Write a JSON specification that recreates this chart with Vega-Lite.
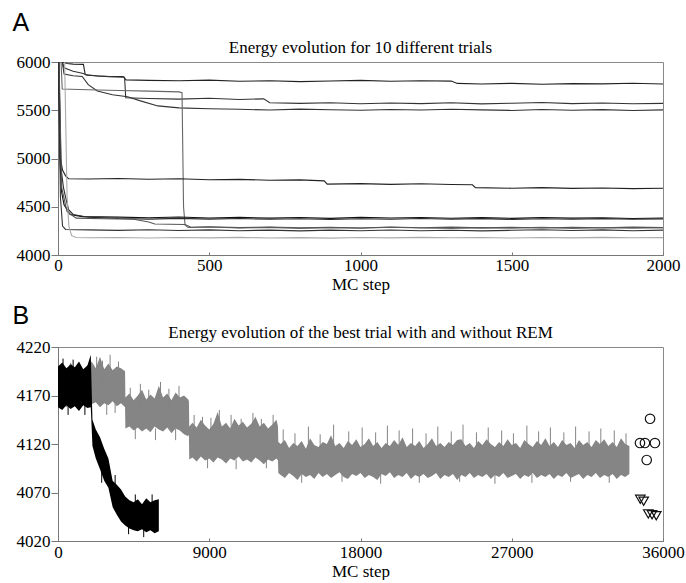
{
"$schema": "https://vega.github.io/schema/vega-lite/v6.json",
"padding": {"left": 12, "top": 10, "right": 3, "bottom": 0},
"spacing": 10,
"config": {
 "view": {"stroke": "#888", "strokeWidth": 1},
 "axis": {"domainColor": "#777", "tickColor": "#777", "labelColor": "#000", "titleColor": "#000", "grid": false, "labelFlush": false, "labelOverlap": false},
 "title": {"font": "serif", "fontSize": 17, "fontWeight": "normal", "color": "#000"}
},
"vconcat": [
 {
  "title": {"text": "A", "anchor": "start", "font": "sans-serif", "fontSize": 25, "fontWeight": "normal", "offset": 3, "dx": -3},
  "vconcat": [
   {
    "title": {"text": "Energy evolution for 10 different trials", "offset": -4},
    "width": 605, "height": 193,
    "data": {"values": [
{"t":"L1","x":0,"y":6500},{"t":"L1","x":18,"y":6000},{"t":"L1","x":30,"y":5985},{"t":"L1","x":50,"y":5978},{"t":"L1","x":84,"y":5975},{"t":"L1","x":90,"y":5870},{"t":"L1","x":130,"y":5855},{"t":"L1","x":170,"y":5848},{"t":"L1","x":215,"y":5850},{"t":"L1","x":225,"y":5815},{"t":"L1","x":300,"y":5810},{"t":"L1","x":400,"y":5806},{"t":"L1","x":500,"y":5812},{"t":"L1","x":600,"y":5800},{"t":"L1","x":700,"y":5805},{"t":"L1","x":800,"y":5797},{"t":"L1","x":900,"y":5803},{"t":"L1","x":1000,"y":5810},{"t":"L1","x":1100,"y":5800},{"t":"L1","x":1200,"y":5806},{"t":"L1","x":1300,"y":5802},{"t":"L1","x":1320,"y":5778},{"t":"L1","x":1400,"y":5772},{"t":"L1","x":1500,"y":5779},{"t":"L1","x":1600,"y":5770},{"t":"L1","x":1700,"y":5776},{"t":"L1","x":1800,"y":5773},{"t":"L1","x":1900,"y":5780},{"t":"L1","x":2000,"y":5772},
{"t":"L2","x":0,"y":6500},{"t":"L2","x":15,"y":6000},{"t":"L2","x":20,"y":5940},{"t":"L2","x":50,"y":5905},{"t":"L2","x":84,"y":5880},{"t":"L2","x":95,"y":5862},{"t":"L2","x":150,"y":5852},{"t":"L2","x":220,"y":5842},{"t":"L2","x":224,"y":5630},{"t":"L2","x":300,"y":5622},{"t":"L2","x":400,"y":5615},{"t":"L2","x":500,"y":5625},{"t":"L2","x":600,"y":5612},{"t":"L2","x":680,"y":5618},{"t":"L2","x":700,"y":5578},{"t":"L2","x":800,"y":5571},{"t":"L2","x":900,"y":5577},{"t":"L2","x":1000,"y":5568},{"t":"L2","x":1100,"y":5575},{"t":"L2","x":1200,"y":5569},{"t":"L2","x":1300,"y":5578},{"t":"L2","x":1400,"y":5566},{"t":"L2","x":1500,"y":5573},{"t":"L2","x":1600,"y":5581},{"t":"L2","x":1700,"y":5569},{"t":"L2","x":1800,"y":5575},{"t":"L2","x":1900,"y":5567},{"t":"L2","x":2000,"y":5571},
{"t":"L3","x":0,"y":6500},{"t":"L3","x":14,"y":6000},{"t":"L3","x":20,"y":5875},{"t":"L3","x":50,"y":5858},{"t":"L3","x":80,"y":5850},{"t":"L3","x":100,"y":5765},{"t":"L3","x":130,"y":5700},{"t":"L3","x":180,"y":5660},{"t":"L3","x":230,"y":5640},{"t":"L3","x":270,"y":5600},{"t":"L3","x":330,"y":5545},{"t":"L3","x":400,"y":5525},{"t":"L3","x":500,"y":5515},{"t":"L3","x":600,"y":5510},{"t":"L3","x":700,"y":5502},{"t":"L3","x":800,"y":5512},{"t":"L3","x":900,"y":5505},{"t":"L3","x":1000,"y":5500},{"t":"L3","x":1100,"y":5508},{"t":"L3","x":1200,"y":5502},{"t":"L3","x":1300,"y":5510},{"t":"L3","x":1400,"y":5504},{"t":"L3","x":1500,"y":5498},{"t":"L3","x":1600,"y":5508},{"t":"L3","x":1700,"y":5500},{"t":"L3","x":1800,"y":5506},{"t":"L3","x":1900,"y":5498},{"t":"L3","x":2000,"y":5504},
{"t":"L4","x":0,"y":6500},{"t":"L4","x":10,"y":6000},{"t":"L4","x":14,"y":5720},{"t":"L4","x":100,"y":5712},{"t":"L4","x":200,"y":5705},{"t":"L4","x":300,"y":5698},{"t":"L4","x":400,"y":5690},{"t":"L4","x":410,"y":5682},{"t":"L4","x":415,"y":4500},{"t":"L4","x":420,"y":4310},{"t":"L4","x":430,"y":4285},{"t":"L4","x":500,"y":4290},{"t":"L4","x":600,"y":4280},{"t":"L4","x":700,"y":4286},{"t":"L4","x":800,"y":4276},{"t":"L4","x":900,"y":4284},{"t":"L4","x":1000,"y":4278},{"t":"L4","x":1100,"y":4288},{"t":"L4","x":1200,"y":4280},{"t":"L4","x":1300,"y":4274},{"t":"L4","x":1400,"y":4284},{"t":"L4","x":1500,"y":4278},{"t":"L4","x":1600,"y":4286},{"t":"L4","x":1700,"y":4276},{"t":"L4","x":1800,"y":4282},{"t":"L4","x":1900,"y":4277},{"t":"L4","x":2000,"y":4283},
{"t":"L5","x":0,"y":6500},{"t":"L5","x":8,"y":5000},{"t":"L5","x":15,"y":4880},{"t":"L5","x":25,"y":4820},{"t":"L5","x":35,"y":4790},{"t":"L5","x":100,"y":4788},{"t":"L5","x":200,"y":4792},{"t":"L5","x":300,"y":4785},{"t":"L5","x":400,"y":4790},{"t":"L5","x":500,"y":4780},{"t":"L5","x":600,"y":4784},{"t":"L5","x":700,"y":4774},{"t":"L5","x":800,"y":4778},{"t":"L5","x":880,"y":4768},{"t":"L5","x":890,"y":4735},{"t":"L5","x":1000,"y":4740},{"t":"L5","x":1100,"y":4732},{"t":"L5","x":1200,"y":4738},{"t":"L5","x":1300,"y":4730},{"t":"L5","x":1370,"y":4728},{"t":"L5","x":1380,"y":4698},{"t":"L5","x":1500,"y":4692},{"t":"L5","x":1600,"y":4698},{"t":"L5","x":1700,"y":4690},{"t":"L5","x":1800,"y":4695},{"t":"L5","x":1900,"y":4688},{"t":"L5","x":2000,"y":4692},
{"t":"L6","x":0,"y":6500},{"t":"L6","x":6,"y":5000},{"t":"L6","x":12,"y":4650},{"t":"L6","x":20,"y":4520},{"t":"L6","x":40,"y":4420},{"t":"L6","x":80,"y":4398},{"t":"L6","x":200,"y":4392},{"t":"L6","x":300,"y":4386},{"t":"L6","x":400,"y":4394},{"t":"L6","x":500,"y":4384},{"t":"L6","x":600,"y":4390},{"t":"L6","x":700,"y":4382},{"t":"L6","x":800,"y":4388},{"t":"L6","x":900,"y":4380},{"t":"L6","x":1000,"y":4390},{"t":"L6","x":1100,"y":4383},{"t":"L6","x":1200,"y":4389},{"t":"L6","x":1300,"y":4381},{"t":"L6","x":1400,"y":4387},{"t":"L6","x":1500,"y":4380},{"t":"L6","x":1600,"y":4388},{"t":"L6","x":1700,"y":4382},{"t":"L6","x":1800,"y":4386},{"t":"L6","x":1900,"y":4378},{"t":"L6","x":2000,"y":4384},
{"t":"L7","x":0,"y":6500},{"t":"L7","x":10,"y":4900},{"t":"L7","x":18,"y":4700},{"t":"L7","x":25,"y":4600},{"t":"L7","x":35,"y":4470},{"t":"L7","x":50,"y":4420},{"t":"L7","x":100,"y":4392},{"t":"L7","x":200,"y":4378},{"t":"L7","x":300,"y":4372},{"t":"L7","x":400,"y":4380},{"t":"L7","x":500,"y":4372},{"t":"L7","x":600,"y":4378},{"t":"L7","x":700,"y":4370},{"t":"L7","x":800,"y":4376},{"t":"L7","x":900,"y":4368},{"t":"L7","x":1000,"y":4376},{"t":"L7","x":1100,"y":4370},{"t":"L7","x":1200,"y":4378},{"t":"L7","x":1300,"y":4371},{"t":"L7","x":1400,"y":4377},{"t":"L7","x":1500,"y":4369},{"t":"L7","x":1600,"y":4375},{"t":"L7","x":1700,"y":4370},{"t":"L7","x":1800,"y":4377},{"t":"L7","x":1900,"y":4371},{"t":"L7","x":2000,"y":4374},
{"t":"L8","x":0,"y":6500},{"t":"L8","x":12,"y":4700},{"t":"L8","x":30,"y":4450},{"t":"L8","x":60,"y":4382},{"t":"L8","x":150,"y":4375},{"t":"L8","x":250,"y":4370},{"t":"L8","x":300,"y":4342},{"t":"L8","x":320,"y":4322},{"t":"L8","x":420,"y":4316},{"t":"L8","x":440,"y":4288},{"t":"L8","x":500,"y":4292},{"t":"L8","x":600,"y":4284},{"t":"L8","x":700,"y":4290},{"t":"L8","x":800,"y":4282},{"t":"L8","x":900,"y":4288},{"t":"L8","x":1000,"y":4280},{"t":"L8","x":1100,"y":4290},{"t":"L8","x":1200,"y":4283},{"t":"L8","x":1300,"y":4289},{"t":"L8","x":1400,"y":4281},{"t":"L8","x":1500,"y":4287},{"t":"L8","x":1600,"y":4280},{"t":"L8","x":1700,"y":4288},{"t":"L8","x":1800,"y":4282},{"t":"L8","x":1900,"y":4289},{"t":"L8","x":2000,"y":4284},
{"t":"L9","x":0,"y":6500},{"t":"L9","x":8,"y":4600},{"t":"L9","x":15,"y":4300},{"t":"L9","x":25,"y":4265},{"t":"L9","x":100,"y":4260},{"t":"L9","x":200,"y":4255},{"t":"L9","x":300,"y":4262},{"t":"L9","x":400,"y":4254},{"t":"L9","x":500,"y":4260},{"t":"L9","x":600,"y":4252},{"t":"L9","x":700,"y":4258},{"t":"L9","x":800,"y":4250},{"t":"L9","x":900,"y":4258},{"t":"L9","x":1000,"y":4252},{"t":"L9","x":1100,"y":4259},{"t":"L9","x":1200,"y":4251},{"t":"L9","x":1300,"y":4257},{"t":"L9","x":1400,"y":4250},{"t":"L9","x":1500,"y":4256},{"t":"L9","x":1600,"y":4262},{"t":"L9","x":1700,"y":4254},{"t":"L9","x":1800,"y":4260},{"t":"L9","x":1900,"y":4252},{"t":"L9","x":2000,"y":4258},
{"t":"L10","x":0,"y":6500},{"t":"L10","x":22,"y":6000},{"t":"L10","x":30,"y":4600},{"t":"L10","x":36,"y":4300},{"t":"L10","x":45,"y":4200},{"t":"L10","x":60,"y":4182},{"t":"L10","x":100,"y":4178},{"t":"L10","x":200,"y":4182},{"t":"L10","x":300,"y":4176},{"t":"L10","x":400,"y":4181},{"t":"L10","x":500,"y":4177},{"t":"L10","x":600,"y":4183},{"t":"L10","x":700,"y":4176},{"t":"L10","x":800,"y":4180},{"t":"L10","x":900,"y":4175},{"t":"L10","x":1000,"y":4182},{"t":"L10","x":1100,"y":4177},{"t":"L10","x":1200,"y":4183},{"t":"L10","x":1300,"y":4178},{"t":"L10","x":1400,"y":4182},{"t":"L10","x":1500,"y":4176},{"t":"L10","x":1600,"y":4181},{"t":"L10","x":1700,"y":4177},{"t":"L10","x":1800,"y":4183},{"t":"L10","x":1900,"y":4178},{"t":"L10","x":2000,"y":4180}
    ]},
    "mark": {"type": "line", "strokeWidth": 1.1, "clip": true},
    "encoding": {
     "x": {"field": "x", "type": "quantitative", "scale": {"domain": [0, 2000], "nice": false}, "axis": {"values": [0, 500, 1000, 1500, 2000], "format": "d", "title": "MC step", "tickSize": -3, "labelPadding": 5, "titlePadding": 3, "labelFont": "serif", "labelFontSize": 17, "titleFont": "serif", "titleFontSize": 17, "titleFontWeight": "normal"}},
     "y": {"field": "y", "type": "quantitative", "scale": {"domain": [4000, 6000], "nice": false, "zero": false}, "axis": {"values": [4000, 4500, 5000, 5500, 6000], "format": "d", "title": null, "tickSize": 7, "labelPadding": 1, "labelFont": "serif", "labelFontSize": 17}},
     "color": {"field": "t", "type": "nominal", "legend": null, "scale": {"domain": ["L1","L2","L3","L4","L5","L6","L7","L8","L9","L10"], "range": ["#222","#333","#333","#666","#222","#111","#2a2a2a","#555","#333","#aaa"]}}
    }
   }
  ]
 },
 {
  "title": {"text": "B", "anchor": "start", "font": "sans-serif", "fontSize": 25, "fontWeight": "normal", "offset": -5, "dx": -3},
  "vconcat": [
   {
    "title": {"text": "Energy evolution of the best trial with and without REM", "offset": -4},
    "width": 605, "height": 194,
    "layer": [
     {
      "data": {"values": [
{"x":0,"lo":4160,"hi":4196},{"x":250,"lo":4162,"hi":4200},{"x":500,"lo":4158,"hi":4195},{"x":750,"lo":4163,"hi":4204},{"x":1000,"lo":4160,"hi":4197},{"x":1250,"lo":4157,"hi":4199},{"x":1500,"lo":4162,"hi":4194},{"x":1750,"lo":4159,"hi":4201},{"x":2000,"lo":4161,"hi":4205},{"x":2250,"lo":4163,"hi":4198},{"x":2500,"lo":4158,"hi":4210},{"x":2750,"lo":4162,"hi":4197},{"x":3000,"lo":4160,"hi":4203},{"x":3250,"lo":4164,"hi":4196},{"x":3500,"lo":4159,"hi":4200},{"x":3750,"lo":4162,"hi":4198},{"x":3990,"lo":4158,"hi":4195},
{"x":4010,"lo":4136,"hi":4168},{"x":4250,"lo":4138,"hi":4172},{"x":4500,"lo":4134,"hi":4165},{"x":4750,"lo":4137,"hi":4170},{"x":5000,"lo":4133,"hi":4176},{"x":5250,"lo":4136,"hi":4166},{"x":5500,"lo":4132,"hi":4171},{"x":5750,"lo":4138,"hi":4167},{"x":6000,"lo":4135,"hi":4180},{"x":6250,"lo":4133,"hi":4168},{"x":6500,"lo":4137,"hi":4172},{"x":6750,"lo":4131,"hi":4165},{"x":7000,"lo":4136,"hi":4173},{"x":7250,"lo":4134,"hi":4168},{"x":7500,"lo":4130,"hi":4170},{"x":7750,"lo":4128,"hi":4166},{"x":7790,"lo":4130,"hi":4164},
{"x":7810,"lo":4104,"hi":4138},{"x":8000,"lo":4106,"hi":4142},{"x":8250,"lo":4102,"hi":4137},{"x":8500,"lo":4107,"hi":4145},{"x":8750,"lo":4103,"hi":4139},{"x":9000,"lo":4105,"hi":4135},{"x":9250,"lo":4101,"hi":4141},{"x":9500,"lo":4106,"hi":4153},{"x":9750,"lo":4104,"hi":4138},{"x":10000,"lo":4100,"hi":4142},{"x":10250,"lo":4105,"hi":4136},{"x":10500,"lo":4103,"hi":4146},{"x":10750,"lo":4107,"hi":4139},{"x":11000,"lo":4102,"hi":4143},{"x":11250,"lo":4104,"hi":4137},{"x":11500,"lo":4101,"hi":4141},{"x":11750,"lo":4106,"hi":4148},{"x":12000,"lo":4103,"hi":4138},{"x":12250,"lo":4099,"hi":4142},{"x":12500,"lo":4104,"hi":4136},{"x":12750,"lo":4102,"hi":4140},{"x":13000,"lo":4105,"hi":4145},{"x":13090,"lo":4103,"hi":4138},
{"x":13110,"lo":4090,"hi":4122},{"x":13250,"lo":4088,"hi":4120},{"x":13500,"lo":4085,"hi":4124},{"x":13750,"lo":4090,"hi":4116},{"x":14000,"lo":4087,"hi":4121},{"x":14250,"lo":4083,"hi":4118},{"x":14500,"lo":4089,"hi":4123},{"x":14750,"lo":4086,"hi":4115},{"x":15000,"lo":4088,"hi":4126},{"x":15250,"lo":4084,"hi":4119},{"x":15500,"lo":4090,"hi":4117},{"x":15750,"lo":4086,"hi":4122},{"x":16000,"lo":4089,"hi":4120},{"x":16250,"lo":4085,"hi":4129},{"x":16500,"lo":4088,"hi":4118},{"x":16750,"lo":4091,"hi":4121},{"x":17000,"lo":4086,"hi":4116},{"x":17250,"lo":4084,"hi":4123},{"x":17500,"lo":4089,"hi":4119},{"x":17750,"lo":4087,"hi":4125},{"x":18000,"lo":4090,"hi":4117},{"x":18250,"lo":4085,"hi":4120},{"x":18500,"lo":4088,"hi":4126},{"x":18750,"lo":4086,"hi":4118},{"x":19000,"lo":4083,"hi":4122},{"x":19250,"lo":4089,"hi":4116},{"x":19500,"lo":4087,"hi":4121},{"x":19750,"lo":4091,"hi":4118},{"x":20000,"lo":4085,"hi":4124},{"x":20250,"lo":4088,"hi":4119},{"x":20500,"lo":4086,"hi":4127},{"x":20750,"lo":4090,"hi":4117},{"x":21000,"lo":4084,"hi":4121},{"x":21250,"lo":4088,"hi":4118},{"x":21500,"lo":4086,"hi":4123},{"x":21750,"lo":4089,"hi":4116},{"x":22000,"lo":4085,"hi":4120},{"x":22250,"lo":4087,"hi":4126},{"x":22500,"lo":4090,"hi":4118},{"x":22750,"lo":4084,"hi":4121},{"x":23000,"lo":4088,"hi":4117},{"x":23250,"lo":4086,"hi":4122},{"x":23500,"lo":4089,"hi":4119},{"x":23750,"lo":4083,"hi":4124},{"x":24000,"lo":4088,"hi":4125},{"x":24250,"lo":4086,"hi":4118},{"x":24500,"lo":4090,"hi":4121},{"x":24750,"lo":4085,"hi":4116},{"x":25000,"lo":4088,"hi":4123},{"x":25250,"lo":4086,"hi":4119},{"x":25500,"lo":4089,"hi":4125},{"x":25750,"lo":4084,"hi":4120},{"x":26000,"lo":4088,"hi":4117},{"x":26250,"lo":4086,"hi":4122},{"x":26500,"lo":4090,"hi":4118},{"x":26750,"lo":4085,"hi":4125},{"x":27000,"lo":4087,"hi":4119},{"x":27250,"lo":4089,"hi":4121},{"x":27500,"lo":4084,"hi":4116},{"x":27750,"lo":4088,"hi":4124},{"x":28000,"lo":4086,"hi":4120},{"x":28250,"lo":4090,"hi":4117},{"x":28500,"lo":4085,"hi":4123},{"x":28750,"lo":4088,"hi":4119},{"x":29000,"lo":4086,"hi":4126},{"x":29250,"lo":4089,"hi":4118},{"x":29500,"lo":4084,"hi":4122},{"x":29750,"lo":4088,"hi":4117},{"x":30000,"lo":4086,"hi":4124},{"x":30250,"lo":4090,"hi":4119},{"x":30500,"lo":4085,"hi":4121},{"x":30750,"lo":4087,"hi":4116},{"x":31000,"lo":4089,"hi":4124},{"x":31250,"lo":4084,"hi":4119},{"x":31500,"lo":4088,"hi":4122},{"x":31750,"lo":4086,"hi":4117},{"x":32000,"lo":4090,"hi":4124},{"x":32250,"lo":4085,"hi":4120},{"x":32500,"lo":4088,"hi":4125},{"x":32750,"lo":4086,"hi":4118},{"x":33000,"lo":4089,"hi":4122},{"x":33250,"lo":4084,"hi":4117},{"x":33500,"lo":4088,"hi":4126},{"x":33750,"lo":4086,"hi":4120},{"x":34000,"lo":4089,"hi":4118}
      ]},
      "mark": {"type": "area", "color": "#858585", "opacity": 1, "clip": true},
      "encoding": {
       "x": {"field": "x", "type": "quantitative", "scale": {"domain": [0, 36000], "nice": false}, "axis": {"values": [0, 9000, 18000, 27000, 36000], "format": "d", "title": "MC step", "tickSize": -3, "labelPadding": 6, "titlePadding": 3, "labelFont": "serif", "labelFontSize": 17, "titleFont": "serif", "titleFontSize": 17, "titleFontWeight": "normal"}},
       "y": {"field": "lo", "type": "quantitative", "scale": {"domain": [4020, 4220], "nice": false, "zero": false}, "axis": {"values": [4020, 4070, 4120, 4170, 4220], "format": "d", "title": null, "tickSize": 7, "labelPadding": 1, "labelFont": "serif", "labelFontSize": 17}},
       "y2": {"field": "hi"}
      }
     },
     {
      "data": {"values": [
{"x":2300,"lo":4185,"hi":4210},{"x":2650,"lo":4180,"hi":4206},{"x":3100,"lo":4185,"hi":4212},{"x":3600,"lo":4182,"hi":4205},{"x":2900,"lo":4150,"hi":4162},{"x":3400,"lo":4152,"hi":4162},
{"x":4300,"lo":4160,"hi":4178},{"x":4900,"lo":4158,"hi":4182},{"x":5400,"lo":4155,"hi":4176},{"x":6100,"lo":4160,"hi":4184},{"x":6600,"lo":4158,"hi":4177},{"x":7200,"lo":4155,"hi":4180},{"x":4600,"lo":4125,"hi":4136},{"x":5800,"lo":4124,"hi":4136},{"x":7000,"lo":4124,"hi":4136},
{"x":8100,"lo":4130,"hi":4150},{"x":8600,"lo":4132,"hi":4148},{"x":9100,"lo":4128,"hi":4147},{"x":9600,"lo":4130,"hi":4155},{"x":10300,"lo":4133,"hi":4150},{"x":10900,"lo":4128,"hi":4146},{"x":11600,"lo":4131,"hi":4152},{"x":12100,"lo":4129,"hi":4146},{"x":12800,"lo":4132,"hi":4150},{"x":8900,"lo":4095,"hi":4105},{"x":10600,"lo":4094,"hi":4104},{"x":12400,"lo":4095,"hi":4105},
{"x":13400,"lo":4115,"hi":4135},{"x":14100,"lo":4114,"hi":4131},{"x":14900,"lo":4116,"hi":4138},{"x":15600,"lo":4113,"hi":4130},{"x":16400,"lo":4112,"hi":4140},{"x":17300,"lo":4115,"hi":4133},{"x":18100,"lo":4114,"hi":4137},{"x":18900,"lo":4116,"hi":4132},{"x":19600,"lo":4113,"hi":4139},{"x":20300,"lo":4115,"hi":4134},{"x":21100,"lo":4114,"hi":4136},{"x":21900,"lo":4112,"hi":4131},{"x":22600,"lo":4116,"hi":4138},{"x":23400,"lo":4114,"hi":4133},{"x":24100,"lo":4113,"hi":4140},{"x":24900,"lo":4115,"hi":4132},{"x":25600,"lo":4114,"hi":4137},{"x":26400,"lo":4116,"hi":4134},{"x":27100,"lo":4113,"hi":4131},{"x":27900,"lo":4115,"hi":4139},{"x":28600,"lo":4114,"hi":4133},{"x":29300,"lo":4116,"hi":4137},{"x":30100,"lo":4113,"hi":4132},{"x":30800,"lo":4115,"hi":4138},{"x":31600,"lo":4114,"hi":4133},{"x":32300,"lo":4116,"hi":4136},{"x":33100,"lo":4113,"hi":4134},{"x":33800,"lo":4115,"hi":4131},
{"x":14500,"lo":4080,"hi":4090},{"x":16900,"lo":4081,"hi":4090},{"x":19200,"lo":4079,"hi":4089},{"x":21500,"lo":4080,"hi":4090},{"x":23900,"lo":4081,"hi":4089},{"x":26000,"lo":4079,"hi":4090},{"x":28200,"lo":4080,"hi":4089},{"x":30500,"lo":4081,"hi":4090},{"x":32800,"lo":4080,"hi":4089}
      ]},
      "mark": {"type": "rule", "color": "#858585", "strokeWidth": 1, "clip": true},
      "encoding": {
       "x": {"field": "x", "type": "quantitative"},
       "y": {"field": "lo", "type": "quantitative"},
       "y2": {"field": "hi"}
      }
     },
     {
      "data": {"values": [
{"x":0,"lo":4158,"hi":4200},{"x":250,"lo":4155,"hi":4204},{"x":500,"lo":4160,"hi":4198},{"x":750,"lo":4156,"hi":4202},{"x":1000,"lo":4159,"hi":4199},{"x":1250,"lo":4154,"hi":4205},{"x":1500,"lo":4160,"hi":4197},{"x":1750,"lo":4157,"hi":4201},{"x":1950,"lo":4158,"hi":4212},{"x":2050,"lo":4118,"hi":4145},{"x":2250,"lo":4105,"hi":4135},{"x":2500,"lo":4094,"hi":4127},{"x":2750,"lo":4082,"hi":4115},{"x":3000,"lo":4075,"hi":4105},{"x":3250,"lo":4055,"hi":4082},{"x":3500,"lo":4047,"hi":4078},{"x":3750,"lo":4040,"hi":4073},{"x":4000,"lo":4036,"hi":4066},{"x":4250,"lo":4033,"hi":4062},{"x":4500,"lo":4031,"hi":4060},{"x":4750,"lo":4030,"hi":4063},{"x":5000,"lo":4032,"hi":4058},{"x":5250,"lo":4029,"hi":4064},{"x":5500,"lo":4031,"hi":4060},{"x":5750,"lo":4028,"hi":4062},{"x":6000,"lo":4030,"hi":4063}
      ]},
      "mark": {"type": "area", "color": "#000", "clip": true},
      "encoding": {
       "x": {"field": "x", "type": "quantitative"},
       "y": {"field": "lo", "type": "quantitative"},
       "y2": {"field": "hi"}
      }
     },
     {
      "data": {"values": [
{"x":300,"lo":4190,"hi":4208},{"x":900,"lo":4188,"hi":4207},{"x":1600,"lo":4150,"hi":4165},{"x":600,"lo":4150,"hi":4162},{"x":2600,"lo":4080,"hi":4098},{"x":3400,"lo":4070,"hi":4088},{"x":4600,"lo":4055,"hi":4068},{"x":5100,"lo":4024,"hi":4035},{"x":5600,"lo":4055,"hi":4068},{"x":4200,"lo":4027,"hi":4038}
      ]},
      "mark": {"type": "rule", "color": "#000", "strokeWidth": 1, "clip": true},
      "encoding": {
       "x": {"field": "x", "type": "quantitative"},
       "y": {"field": "lo", "type": "quantitative"},
       "y2": {"field": "hi"}
      }
     },
     {
      "data": {"values": [
{"kind":"with","x":35230,"y":4146},{"kind":"with","x":34630,"y":4121},{"kind":"with","x":34925,"y":4121},{"kind":"with","x":35520,"y":4121},{"kind":"with","x":35030,"y":4103.5},
{"kind":"without","x":34650,"y":4063},{"kind":"without","x":34850,"y":4061},{"kind":"without","x":35125,"y":4048},{"kind":"without","x":35350,"y":4047},{"kind":"without","x":35600,"y":4046}
      ]},
      "mark": {"type": "point", "filled": false, "color": "#111", "strokeWidth": 1.2, "opacity": 1},
      "encoding": {
       "x": {"field": "x", "type": "quantitative"},
       "y": {"field": "y", "type": "quantitative"},
       "shape": {"field": "kind", "type": "nominal", "legend": null, "scale": {"domain": ["with", "without"], "range": ["circle", "triangle-down"]}},
       "size": {"value": 90}
      }
     }
    ]
   }
  ]
 }
]
}
